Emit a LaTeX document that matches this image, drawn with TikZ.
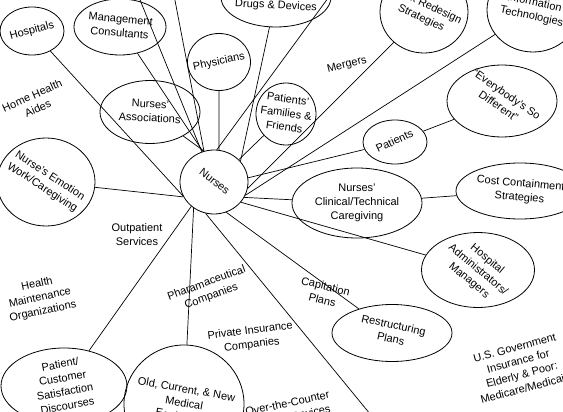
\documentclass[tikz,border=0pt]{standalone}
\usepackage{fontspec}
\setmainfont{Liberation Sans}
\usepackage{graphicx}
\usetikzlibrary{shapes.geometric}

% rotated text that does not widen the oval around it
\newcommand\turntext[3][0pt]{\makebox[0pt]{\smash{\raisebox{\dimexpr#1-2.7pt\relax}{\rotatebox[origin=c]{#2}{\begin{tabular}{@{}c@{}}#3\end{tabular}}}}}}

\begin{document}
\begin{tikzpicture}[x=1pt,y=-1pt,font=\fontsize{11}{14}\selectfont,
  oval/.style={draw,ellipse,inner sep=0pt,line width=0.8pt},
  lab/.style={align=center,inner sep=0pt},
  conn/.style={line width=0.7pt}]
\useasboundingbox (0,0) rectangle (563,412);
\clip (0,0) rectangle (563,412);

 \node[oval,minimum width=68pt,minimum height=64pt] (nurses) at (214,182) {\turntext{-38}{Nurses}};

 \node[oval,minimum width=64pt,minimum height=48pt] (hosp) at (32,31) {\turntext{15}{Hospitals}};
 \node[oval,minimum width=92pt,minimum height=56pt] (mgmt) at (120,27) {\turntext{-5}{Management\\Consultants}};
 \node[oval,minimum width=110pt,minimum height=60pt] (drugs) at (276,-3) {\turntext[-9pt]{-3}{Drugs \& Devices}};
 \node[oval,minimum width=63pt,minimum height=57pt] (phys) at (219,62) {\turntext{12}{Physicians}};
 \node[oval,minimum width=100pt,minimum height=63pt] (assoc) at (150,112) {\turntext{-3}{Nurses'\\Associations}};
 \node[oval,minimum width=60pt,minimum height=62pt] (family) at (286,114) {\turntext{-8}{Patients'\\Families \&\\Friends}};
 \node[oval,minimum width=88pt,minimum height=82pt] (redesign) at (424,12) {\turntext{-25}{Work Redesign\\Strategies}};
 \node[oval,minimum width=92pt,minimum height=84pt] (infotech) at (533,10) {\turntext{-12}{Information\\Technologies}};
 \node[oval,minimum width=110pt,minimum height=72pt] (every) at (502,101) {\turntext{-35}{``Everybody's So\\Different''}};
 \node[oval,minimum width=64pt,minimum height=44pt] (patients) at (395,142) {\turntext{25}{Patients}};
 \node[oval,minimum width=130pt,minimum height=70pt] (clin) at (357,203) {\turntext{0}{Nurses'\\Clinical/Technical\\Caregiving}};
 \node[oval,minimum width=128pt,minimum height=56pt] (cost) at (520,191) {\turntext{-5}{Cost Containment\\Strategies}};
 \node[oval,minimum width=113pt,minimum height=75pt] (admin) at (478,270) {\turntext{-40}{Hospital\\Administrators/\\Managers}};
 \node[oval,minimum width=120pt,minimum height=57pt] (restr) at (392,333) {\turntext{-12}{Restructuring\\Plans}};
 \node[oval,minimum width=120pt,minimum height=118pt] (equip) at (184,404) {\turntext{-10}{Old, Current, \& New\\Medical\\Equipment}};
 \node[oval,minimum width=126pt,minimum height=76pt] (cust) at (64,386) {\turntext{10}{Patient/\\Customer\\Satisfaction\\Discourses}};
 \node[oval,minimum width=98pt,minimum height=88pt] (emotion) at (46,182) {\turntext{-33}{Nurse's Emotion\\Work/Caregiving}};

 \node[lab,rotate=24] (homehealth) at (35,102) {Home Health\\Aides};
 \node[lab] (outpatient) at (137,235) {Outpatient\\Services};
 \node[lab,rotate=12] (hmo) at (40,298) {Health\\Maintenance\\Organizations};
 \node[lab,rotate=20] (pharma) at (209,290) {Pharamaceutical\\Companies};
 \node[lab,rotate=7] (private) at (251,338) {Private Insurance\\Companies};
 \node[lab,rotate=-14] (capitation) at (324,293) {Capitation\\Plans};
 \node[lab,rotate=14] (mergers) at (347,65) {Mergers};
 \node[lab,rotate=15] (usgov) at (520,368) {U.S. Government\\Insurance for\\Elderly \& Poor:\\Medicare/Medicaid};
 \node[lab,rotate=12] (otc) at (289,411) {Over-the-Counter\\Drugs \& Devices};

 % ends that run off the page
 \coordinate (top1) at (136,-10);
 \coordinate (top2) at (173,-10);
 \coordinate (top3) at (334,-10);
 \coordinate (bot1) at (375,420);

 \draw[conn] (nurses.204)--(hosp);
 \draw[conn] (nurses.110)--(mgmt);
 \draw[conn] (nurses.112)--(top1);
 \draw[conn] (nurses.108)--(top2);
 \draw[conn] (nurses.108)--(assoc);
 \draw[conn] (nurses.81)--(phys);
 \draw[conn] (nurses.85)--(top3);
 \draw[conn] (nurses.38)--(drugs);
 \draw[conn] (nurses.42)--(family);
 \draw[conn] (nurses.349)--(redesign);
 \draw[conn] (nurses.337)--(infotech);
 \draw[conn] (nurses.7)--(patients);
 \draw[conn] (patients)--(every);
 \draw[conn] (nurses.333)--(clin);
 \draw[conn] (clin)--(cost);
 \draw[conn] (nurses.323)--(admin);
 \draw[conn] (nurses.292)--(restr);
 \draw[conn] (nurses.255)--(bot1);
 \draw[conn] (nurses.232)--(equip);
 \draw[conn] (nurses.227)--(cust);
 \draw[conn] (nurses.206)--(emotion);
\end{tikzpicture}
\end{document}
